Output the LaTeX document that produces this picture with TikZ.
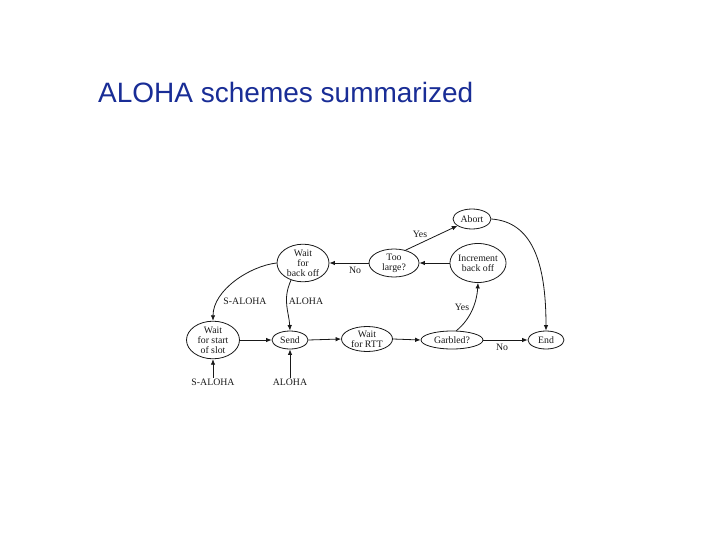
\documentclass[tikz,border=0pt]{standalone}
\usepackage{fontspec}
\setmainfont{Liberation Serif}
\newfontfamily\titlefont{Liberation Sans}
\usetikzlibrary{shapes.geometric,arrows.meta}
\definecolor{titleblue}{RGB}{25,45,150}
\definecolor{ink}{RGB}{25,25,25}
\begin{document}
\begin{tikzpicture}[x=1pt,y=-1pt,
  st/.style={ellipse,draw=ink,line width=0.8pt,inner sep=0pt,align=center,
    font=\fontsize{9.8}{10}\selectfont,text=ink},
  lbl/.style={font=\fontsize{9.8}{10}\selectfont,text=ink,inner sep=1pt},
  arr/.style={draw=ink,line width=0.8pt,-{Latex[length=5.5pt,width=4.5pt]}}]
\useasboundingbox[fill=white] (0,0) rectangle (720,540);
\node[anchor=base west,font=\titlefont\fontsize{28}{30}\selectfont,text=titleblue,inner sep=0pt] (title) at (98,103) {ALOHA schemes summarized};
% states
\node[st,minimum width=52pt,minimum height=37pt] (wbo) at (303,263) {Wait\\for\\back off};
\node[st,minimum width=53pt,minimum height=37pt] (wss) at (213,340) {Wait\\for start\\of slot};
\node[st,minimum width=36pt,minimum height=18pt] (send) at (290,340) {Send};
\node[st,minimum width=51pt,minimum height=25pt] (rtt) at (367,339) {Wait\\for RTT};
\node[st,minimum width=62pt,minimum height=18pt] (garb) at (452,340) {Garbled?};
\node[st,minimum width=36pt,minimum height=18pt] (end) at (546,340) {End};
\node[st,minimum width=50pt,minimum height=28pt] (tl) at (394,263) {Too\\large?};
\node[st,minimum width=55pt,minimum height=39pt] (inc) at (478,263) {Increment\\back off};
\node[st,minimum width=38pt,minimum height=20pt] (abort) at (472,219) {Abort};
% entry labels
\node[lbl] (sa) at (213,382) {S-ALOHA};
\node[lbl] (al) at (290,382) {ALOHA};
% edges
\draw[arr] (wbo.west) .. controls (250,266) and (213,290) .. (wss.north);
\draw[arr] (wbo.235) .. controls (282,300) and (289,312) .. (send.north);
\draw[arr] (tl.west) -- (wbo.east);
\draw[arr] (tl.48) -- (abort.205);
\draw[arr] (inc.west) -- (tl.east);
\draw[arr] (garb.65) .. controls (472,318) and (477,300) .. (inc.south);
\draw[arr] (abort.east) .. controls (532,222) and (546,262) .. (end.north);
\draw[arr] (wss.east) -- (send.west);
\draw[arr] (send.east) -- (rtt.west);
\draw[arr] (rtt.east) -- (garb.west);
\draw[arr] (garb.east) -- (end.west);
\draw[arr] (sa.north) -- (wss.south);
\draw[arr] (al.north) -- (send.south);
% edge labels
\node[lbl] (noA) at (355,270) {No};
\node[lbl] (yesA) at (420,234) {Yes};
\node[lbl] (yesB) at (462,307) {Yes};
\node[lbl] (noB) at (502,347) {No};
\node[lbl] (saM) at (245,301) {S-ALOHA};
\node[lbl] (alM) at (306,301) {ALOHA};
\end{tikzpicture}
\end{document}
